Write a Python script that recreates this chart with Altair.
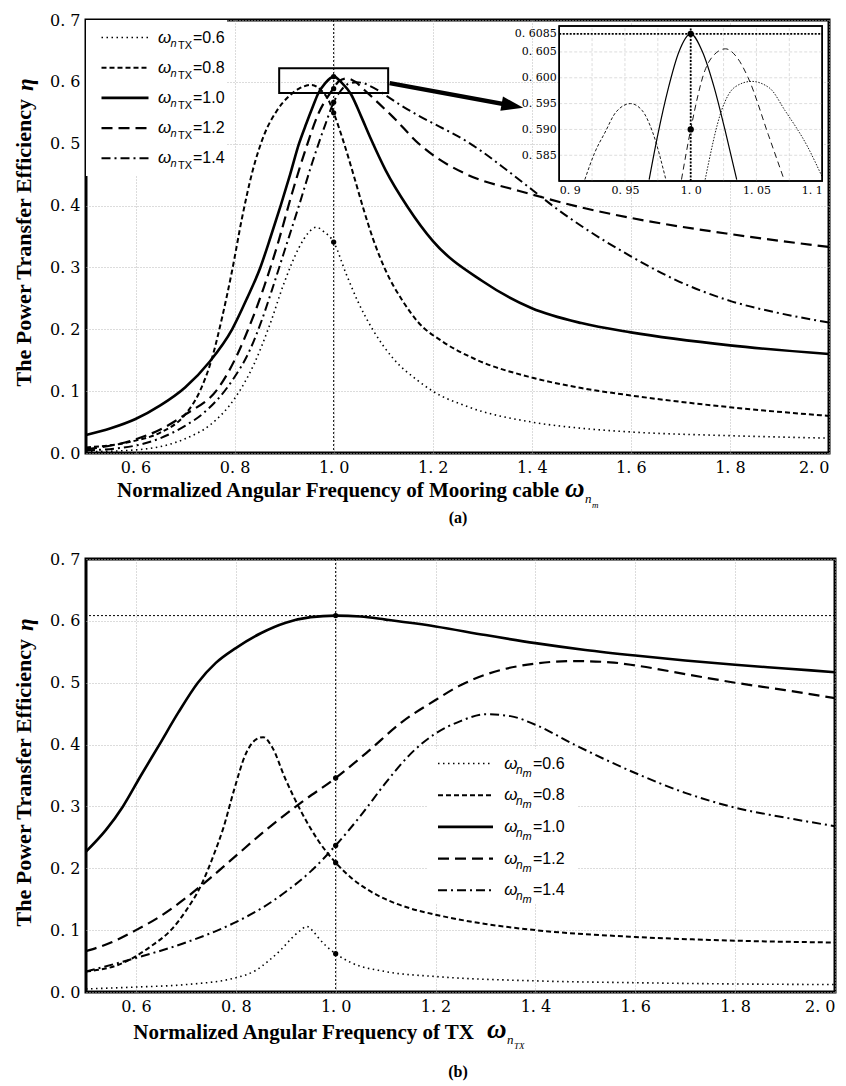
import altair as alt
import pandas as pd

# ---------------- data: panel (a)  x = omega_nm, series = omega_nTX ----------------
a06_x = [0.5, 0.6, 0.7, 0.75, 0.8, 0.84, 0.87, 0.9, 0.93, 0.95, 0.965, 0.98, 1.0, 1.025, 1.05, 1.08, 1.12, 1.17, 1.2, 1.27, 1.4, 1.5, 1.6, 1.8, 2.0]
a06_y = [0.002, 0.005, 0.023, 0.045, 0.088, 0.145, 0.205, 0.275, 0.332, 0.357, 0.365, 0.358, 0.341, 0.29, 0.243, 0.198, 0.153, 0.117, 0.1, 0.075, 0.05, 0.04, 0.034, 0.028, 0.024]

a08_x = [0.5, 0.6, 0.65, 0.7, 0.73, 0.755, 0.775, 0.795, 0.815, 0.836, 0.86, 0.885, 0.91, 0.93, 0.955, 0.975, 0.99, 1.0, 1.02, 1.04, 1.06, 1.08, 1.105, 1.14, 1.17, 1.22, 1.285, 1.4, 1.5, 1.6, 1.8, 2.0]
a08_y = [0.009, 0.02, 0.033, 0.062, 0.1, 0.155, 0.22, 0.295, 0.38, 0.455, 0.515, 0.553, 0.577, 0.589, 0.595, 0.586, 0.57, 0.55, 0.503, 0.45, 0.395, 0.345, 0.295, 0.245, 0.212, 0.18, 0.152, 0.122, 0.105, 0.093, 0.074, 0.06]

a10_x = [0.5, 0.55, 0.6, 0.65, 0.7, 0.75, 0.795, 0.825, 0.852, 0.873, 0.893, 0.912, 0.93, 0.945, 0.958, 0.968, 0.983, 1.0, 1.017, 1.035, 1.055, 1.075, 1.105, 1.15, 1.2, 1.3, 1.4, 1.5, 1.6, 1.8, 2.0]
a10_y = [0.029, 0.04, 0.055, 0.077, 0.106, 0.148, 0.2, 0.25, 0.3, 0.35, 0.4, 0.45, 0.5, 0.533, 0.56, 0.58, 0.598, 0.6085, 0.598, 0.58, 0.545, 0.508, 0.457, 0.397, 0.343, 0.278, 0.234, 0.21, 0.195, 0.174, 0.16]

a12_x = [0.5, 0.6, 0.65, 0.7, 0.768, 0.806, 0.83, 0.86, 0.886, 0.916, 0.943, 0.97, 0.993, 1.0, 1.011, 1.027, 1.044, 1.059, 1.07, 1.09, 1.12, 1.172, 1.2, 1.267, 1.373, 1.4, 1.5, 1.6, 1.8, 2.0]
a12_y = [0.006, 0.022, 0.038, 0.062, 0.106, 0.16, 0.205, 0.27, 0.335, 0.42, 0.49, 0.55, 0.582, 0.59, 0.6014, 0.6056, 0.60, 0.589, 0.581, 0.566, 0.543, 0.5, 0.482, 0.451, 0.424, 0.418, 0.397, 0.38, 0.354, 0.333]

a14_x = [0.5, 0.6, 0.7, 0.735, 0.795, 0.83, 0.855, 0.876, 0.9, 0.93, 0.957, 0.984, 1.0, 1.011, 1.0235, 1.034, 1.046, 1.06, 1.072, 1.089, 1.1, 1.13, 1.172, 1.22, 1.27, 1.3, 1.35, 1.4, 1.45, 1.5, 1.6, 1.69, 1.8, 1.9, 2.0]
a14_y = [0.004, 0.012, 0.044, 0.063, 0.117, 0.165, 0.215, 0.265, 0.325, 0.4, 0.47, 0.533, 0.567, 0.582, 0.5937, 0.598, 0.5993, 0.598, 0.5937, 0.5866, 0.581, 0.565, 0.545, 0.525, 0.503, 0.487, 0.457, 0.426, 0.395, 0.367, 0.318, 0.28, 0.246, 0.226, 0.211]

a_marker_y = [0.6085, 0.589, 0.567, 0.55, 0.341]

# inset of panel (a): zoom around the peaks
in08_x = [0.9195, 0.927, 0.935, 0.943, 0.9542, 0.963, 0.971, 0.9811]
in08_y = [0.5803, 0.5855, 0.5895, 0.5933, 0.595, 0.5937, 0.5895, 0.5803]
in10_x = [0.9684, 0.975, 0.983, 0.991, 1.0, 1.009, 1.018, 1.026, 1.035]
in10_y = [0.5803, 0.589, 0.598, 0.605, 0.6085, 0.605, 0.598, 0.590, 0.5803]
in12_x = [0.993, 1.0, 1.0108, 1.018, 1.0265, 1.035, 1.0437, 1.059, 1.0703]
in12_y = [0.5803, 0.590, 0.6014, 0.6045, 0.6056, 0.604, 0.600, 0.589, 0.5808]
in14_x = [1.011, 1.0235, 1.0336, 1.0463, 1.06, 1.0716, 1.089, 1.1]
in14_y = [0.5803, 0.5937, 0.5982, 0.5993, 0.598, 0.5937, 0.5866, 0.5808]
in_marker_y = [0.6085, 0.590]

# zoom box and arrow (data units of panel a)
zoom_box_x = [0.89, 1.11]
zoom_box_y = [0.582, 0.622]
arrow_x = [1.113, 1.361]
arrow_y = [0.598, 0.5615]

# ---------------- data: panel (b)  x = omega_nTX, series = omega_nm ----------------
b06_x = [0.5, 0.6, 0.7, 0.8, 0.84, 0.865, 0.89, 0.912, 0.93, 0.942, 0.955, 0.965, 0.98, 1.0, 1.032, 1.1, 1.2, 1.4, 1.6, 1.8, 2.0]
b06_y = [0.005, 0.008, 0.012, 0.023, 0.035, 0.05, 0.068, 0.087, 0.1, 0.106, 0.098, 0.088, 0.075, 0.062, 0.047, 0.033, 0.025, 0.018, 0.015, 0.013, 0.012]

b08_x = [0.5, 0.565, 0.632, 0.67, 0.699, 0.732, 0.755, 0.775, 0.797, 0.82, 0.84, 0.855, 0.872, 0.899, 0.932, 0.965, 1.0, 1.032, 1.065, 1.1, 1.15, 1.2, 1.3, 1.4, 1.6, 1.8, 2.0]
b08_y = [0.033, 0.044, 0.075, 0.1, 0.13, 0.175, 0.22, 0.265, 0.328, 0.385, 0.408, 0.412, 0.397, 0.345, 0.29, 0.245, 0.209, 0.184, 0.165, 0.15, 0.135, 0.125, 0.11, 0.1, 0.089, 0.083, 0.08]

b10_x = [0.5, 0.54, 0.574, 0.61, 0.647, 0.685, 0.724, 0.76, 0.8, 0.85, 0.9, 0.95, 1.0, 1.05, 1.1, 1.2, 1.3, 1.4, 1.5, 1.6, 1.7, 1.8, 1.9, 2.0]
b10_y = [0.227, 0.262, 0.3, 0.35, 0.4, 0.452, 0.5, 0.532, 0.556, 0.58, 0.597, 0.606, 0.6085, 0.607, 0.602, 0.591, 0.577, 0.564, 0.553, 0.544, 0.536, 0.529, 0.523, 0.517]

b12_x = [0.5, 0.55, 0.6, 0.65, 0.7, 0.75, 0.8, 0.865, 0.932, 1.0, 1.065, 1.132, 1.2, 1.25, 1.3, 1.4, 1.478, 1.55, 1.6, 1.7, 1.8, 1.9, 2.0]
b12_y = [0.066, 0.08, 0.1, 0.123, 0.152, 0.185, 0.22, 0.265, 0.307, 0.346, 0.389, 0.436, 0.472, 0.496, 0.513, 0.531, 0.535, 0.533, 0.528, 0.514, 0.5, 0.488, 0.475]

b14_x = [0.5, 0.6, 0.7, 0.8, 0.857, 0.9, 0.95, 1.0, 1.05, 1.1, 1.15, 1.2, 1.25, 1.3, 1.35, 1.4, 1.478, 1.55, 1.6, 1.7, 1.8, 1.9, 2.0]
b14_y = [0.033, 0.055, 0.08, 0.113, 0.138, 0.162, 0.195, 0.237, 0.285, 0.338, 0.385, 0.418, 0.438, 0.449, 0.446, 0.432, 0.4, 0.372, 0.354, 0.322, 0.298, 0.282, 0.268]

b_marker_y = [0.6085, 0.346, 0.237, 0.209, 0.062]
b_ref_y = 0.6085

series_values = ["0.6", "0.8", "1.0", "1.2", "1.4"]
x_ticks = [0.6, 0.8, 1.0, 1.2, 1.4, 1.6, 1.8, 2.0]
y_ticks = [0.0, 0.1, 0.2, 0.3, 0.4, 0.5, 0.6, 0.7]
in_x_ticks = [0.9, 0.95, 1.0, 1.05, 1.1]
in_x_grid = [0.925, 0.95, 0.975, 1.0, 1.025, 1.05, 1.075]
in_y_ticks = [0.585, 0.590, 0.595, 0.600, 0.605, 0.6085]
in_y_grid = [0.585, 0.590, 0.595, 0.600, 0.605]

# ---------------- styling ----------------
SERIF = "Liberation Serif"
TICKF = "DejaVu Serif"
SANS = "Liberation Sans"
W_A, H_A = 743, 433
W_B, H_B = 749, 433

STYLE = {
    "0.6": dict(strokeDash=[1.5, 3.5], strokeWidth=1.6),
    "0.8": dict(strokeDash=[5, 3], strokeWidth=2),
    "1.0": dict(strokeWidth=2.6),
    "1.2": dict(strokeDash=[11, 6], strokeWidth=2.2),
    "1.4": dict(strokeDash=[9, 4, 2, 4], strokeWidth=2),
}
IN_STYLE = {
    "0.8": dict(strokeDash=[3, 2], strokeWidth=0.9),
    "1.0": dict(strokeWidth=1.2),
    "1.2": dict(strokeDash=[6, 4], strokeWidth=0.9),
    "1.4": dict(strokeDash=[1.5, 1.5], strokeWidth=0.9),
}

ONE = alt.Data(values=[{}])


def main_axis(vals):
    return alt.Axis(values=vals, labelExpr="replace(format(datum.value, '.1f'), '.', '. ')",
                    grid=True, gridDash=[1, 2], gridColor="#b8b8b8", gridWidth=1,
                    ticks=False, domain=False, labelFont=TICKF, labelFontSize=16,
                    labelColor="black", labelPadding=6, title=None, labelOverlap=False)


def enc_xy(xdom, ydom):
    X = lambda f: alt.X(f, type="quantitative", scale=alt.Scale(domain=xdom, nice=False, zero=False), axis=main_axis(x_ticks))
    Y = lambda f: alt.Y(f, type="quantitative", scale=alt.Scale(domain=ydom, nice=False, zero=False), axis=main_axis(y_ticks))
    return X, Y


def curve(xs, ys, style, X, Y, interp="monotone"):
    df = pd.DataFrame({"x": xs, "y": ys})
    return alt.Chart(df).mark_line(color="black", interpolate=interp, **style).encode(x=X("x"), y=Y("y"))


def txt(s, x, y, size, font=SANS, style="normal", weight="normal", align="left", angle=0, baseline="middle"):
    return alt.Chart(ONE).mark_text(text=s, fontSize=size, font=font, fontStyle=style, fontWeight=weight,
                                    align=align, baseline=baseline, angle=angle, color="black").encode(
        x=alt.value(x), y=alt.value(y))


def vrule(x1, x2, y, style):
    return alt.Chart(ONE).mark_rule(color="black", **style).encode(x=alt.value(x1), x2=alt.value(x2), y=alt.value(y))


def vrect(x1, x2, y1, y2):
    return alt.Chart(ONE).mark_rect(color="white").encode(x=alt.value(x1), x2=alt.value(x2), y=alt.value(y1), y2=alt.value(y2))


def legend(box, line_x, y0, dy, omega_x, subs, eq_x, omega_size, sub_sizes):
    layers = [vrect(*box)]
    for i, v in enumerate(series_values):
        y = y0 + dy * i
        layers.append(vrule(line_x[0], line_x[1], y, STYLE[v]))
        layers.append(txt("ω", omega_x, y, omega_size, style="italic"))
        for (s, sx, sdy, sst), sz in zip(subs, sub_sizes):
            layers.append(txt(s, sx, y + sdy, sz, style=sst))
        layers.append(txt("=" + v, eq_x, y, 16))
    return layers


# ---------------- panel (a) ----------------
XA, YA = enc_xy([0.5, 2.0], [0.0, 0.7])
a_series = [(a06_x, a06_y), (a08_x, a08_y), (a10_x, a10_y), (a12_x, a12_y), (a14_x, a14_y)]

a_layers = []
a_layers.append(alt.Chart(pd.DataFrame({"x": [1.0]})).mark_rule(color="black", strokeDash=[2, 2], strokeWidth=1).encode(x=XA("x")))
for (xs, ys), v in zip(a_series, series_values):
    a_layers.append(curve(xs, ys, STYLE[v], XA, YA))
a_layers.append(alt.Chart(pd.DataFrame({"x": [1.0] * len(a_marker_y), "y": a_marker_y})).mark_circle(color="black", size=28, opacity=1).encode(x=XA("x"), y=YA("y")))
a_layers.append(alt.Chart(pd.DataFrame({"x": [zoom_box_x[0]], "x2": [zoom_box_x[1]], "y": [zoom_box_y[0]], "y2": [zoom_box_y[1]]}))
                .mark_rect(fillOpacity=0, stroke="black", strokeWidth=2).encode(x=XA("x"), x2="x2", y=YA("y"), y2="y2"))
a_layers.append(alt.Chart(pd.DataFrame({"x": arrow_x, "y": arrow_y})).mark_line(color="black", strokeWidth=4.5).encode(x=XA("x"), y=YA("y")))
a_layers.append(alt.Chart(pd.DataFrame({"x": [arrow_x[1]], "y": [arrow_y[1]]}))
                .mark_point(shape="M1,0 L-1,-0.65 L-1,0.65 Z", size=484, angle=10.6, filled=True, color="black", opacity=1)
                .encode(x=XA("x"), y=YA("y")))
a_layers += legend(box=(0, 141, 0, 156), line_x=(15.5, 62.5), y0=17.5, dy=30.2, omega_x=72,
                   subs=[("n", 84.5, 6, "italic"), ("TX", 92, 8, "normal")], eq_x=107,
                   omega_size=17, sub_sizes=[11, 11])
# axis titles and caption
a_layers.append(txt("Normalized Angular Frequency of Mooring cable", 473, 471, 21, font=SERIF, weight="bold", align="right"))
a_layers.append(txt("ω", 479, 469, 27, font=SERIF, weight="bold", style="italic"))
a_layers.append(txt("n", 499, 479, 13, font=SERIF, style="italic"))
a_layers.append(txt("m", 506, 485, 9, font=SERIF, style="italic"))
a_layers.append(txt("The Power Transfer Efficiency", -62, 79, 22, font=SERIF, weight="bold", align="right", angle=270))
a_layers.append(txt("η", -60, 71, 23, font=SERIF, weight="bold", style="italic", align="left", angle=270))
a_layers.append(txt("(a)", 372, 498, 16, font=SERIF, weight="bold", align="center"))

main_a = alt.layer(*a_layers)

# inset
IN_L, IN_R, IN_T, IN_B = 473.2, 736.2, 6.1, 161.1
in_xaxis = alt.Axis(values=in_x_ticks, orient="bottom", offset=-(H_A - IN_B), grid=False, ticks=False, domain=False,
                    labelExpr="datum.value == 0.95 ? '0. 95' : datum.value == 1.05 ? '1. 05' : replace(format(datum.value, '.1f'), '.', '. ')",
                    labelFont=TICKF, labelFontSize=11, labelColor="black", labelPadding=3, title=None, labelOverlap=False)
in_yaxis = alt.Axis(values=in_y_ticks, orient="left", offset=-IN_L, grid=False, ticks=False, domain=False,
                    labelExpr="datum.value == 0.6085 ? '0. 6085' : replace(format(datum.value, '.3f'), '.', '. ')",
                    labelFont=TICKF, labelFontSize=11, labelColor="black", labelPadding=3, title=None, labelOverlap=False)
IX = lambda f: alt.X(f, type="quantitative", scale=alt.Scale(domain=[0.9, 1.1], range=[IN_L, IN_R], nice=False, zero=False), axis=in_xaxis)
IY = lambda f: alt.Y(f, type="quantitative", scale=alt.Scale(domain=[0.58, 0.61], range=[IN_B, IN_T], nice=False, zero=False), axis=in_yaxis)

in_layers = []
in_layers.append(alt.Chart(pd.DataFrame({"x": [0.9], "x2": [1.1], "y": [0.58], "y2": [0.61]}))
                 .mark_rect(fill="white", stroke="black", strokeWidth=1.5).encode(x=IX("x"), x2="x2", y=IY("y"), y2="y2"))
in_layers.append(alt.Chart(pd.DataFrame({"x": in_x_grid, "y": [0.58] * len(in_x_grid), "y2": [0.61] * len(in_x_grid)}))
                 .mark_rule(color="#d4d4d4", strokeDash=[3, 2], strokeWidth=0.8).encode(x=IX("x"), y=IY("y"), y2="y2"))
in_layers.append(alt.Chart(pd.DataFrame({"y": in_y_grid, "x": [0.9] * len(in_y_grid), "x2": [1.1] * len(in_y_grid)}))
                 .mark_rule(color="#d4d4d4", strokeDash=[3, 2], strokeWidth=0.8).encode(y=IY("y"), x=IX("x"), x2="x2"))
for (xs, ys), v in zip([(in08_x, in08_y), (in10_x, in10_y), (in12_x, in12_y), (in14_x, in14_y)], ["0.8", "1.0", "1.2", "1.4"]):
    in_layers.append(alt.Chart(pd.DataFrame({"x": xs, "y": ys})).mark_line(color="black", interpolate="monotone", **IN_STYLE[v]).encode(x=IX("x"), y=IY("y")))
in_layers.append(alt.Chart(pd.DataFrame({"x": [1.0], "y": [0.58], "y2": [0.61]}))
                 .mark_rule(color="black", strokeDash=[2, 1.5], strokeWidth=1.8).encode(x=IX("x"), y=IY("y"), y2="y2"))
in_layers.append(alt.Chart(pd.DataFrame({"y": [0.6085], "x": [0.9], "x2": [1.1]}))
                 .mark_rule(color="black", strokeDash=[2, 1.5], strokeWidth=1.8).encode(y=IY("y"), x=IX("x"), x2="x2"))
in_layers.append(alt.Chart(pd.DataFrame({"x": [1.0] * len(in_marker_y), "y": in_marker_y}))
                 .mark_circle(color="black", size=40, opacity=1).encode(x=IX("x"), y=IY("y")))
in_layers.append(alt.Chart(pd.DataFrame({"x": [0.9], "x2": [1.1], "y": [0.58], "y2": [0.61]}))
                 .mark_rect(fillOpacity=0, stroke="black", strokeWidth=1.5).encode(x=IX("x"), x2="x2", y=IY("y"), y2="y2"))
inset = alt.layer(*in_layers)

panel_a = alt.layer(main_a, inset).resolve_scale(x="independent", y="independent").properties(width=W_A, height=H_A)

# ---------------- panel (b) ----------------
XB, YB = enc_xy([0.5, 2.0], [0.0, 0.7])
b_series = [(b06_x, b06_y), (b08_x, b08_y), (b10_x, b10_y), (b12_x, b12_y), (b14_x, b14_y)]
b_layers = []
b_layers.append(alt.Chart(pd.DataFrame({"x": [1.0]})).mark_rule(color="black", strokeDash=[2, 2], strokeWidth=1).encode(x=XB("x")))
b_layers.append(alt.Chart(pd.DataFrame({"y": [b_ref_y]})).mark_rule(color="black", strokeDash=[2, 2], strokeWidth=1).encode(y=YB("y")))
for (xs, ys), v in zip(b_series, series_values):
    b_layers.append(curve(xs, ys, STYLE[v], XB, YB))
b_layers.append(alt.Chart(pd.DataFrame({"x": [1.0] * len(b_marker_y), "y": b_marker_y})).mark_circle(color="black", size=28, opacity=1).encode(x=XB("x"), y=YB("y")))
b_layers += legend(box=(342, 492, 190, 345), line_x=(352, 407), y0=204.5, dy=31.7, omega_x=418.3,
                   subs=[("n", 430, 6, "italic"), ("m", 436.5, 10, "italic")], eq_x=447,
                   omega_size=17, sub_sizes=[12, 11])
b_layers.append(txt("Normalized Angular Frequency of TX", 388, 473.5, 21, font=SERIF, weight="bold", align="right"))
b_layers.append(txt("ω", 401, 471, 27, font=SERIF, weight="bold", style="italic"))
b_layers.append(txt("n", 421, 481, 13, font=SERIF, style="italic"))
b_layers.append(txt("TX", 428, 487, 9, font=SERIF, style="italic"))
b_layers.append(txt("The Power Transfer Efficiency", -62, 80, 22, font=SERIF, weight="bold", align="right", angle=270))
b_layers.append(txt("η", -60, 72, 23, font=SERIF, weight="bold", style="italic", align="left", angle=270))
b_layers.append(txt("(b)", 372, 512.5, 16, font=SERIF, weight="bold", align="center"))
panel_b = alt.layer(*b_layers).properties(width=W_B, height=H_B)

chart = alt.vconcat(panel_a, panel_b, spacing=21).properties(
    padding={"top": 10, "left": 11, "right": 2, "bottom": 2}, background="white"
).configure_view(stroke="black", strokeWidth=3)

chart.save("out.html", embed_options={"renderer": "svg", "actions": False})
